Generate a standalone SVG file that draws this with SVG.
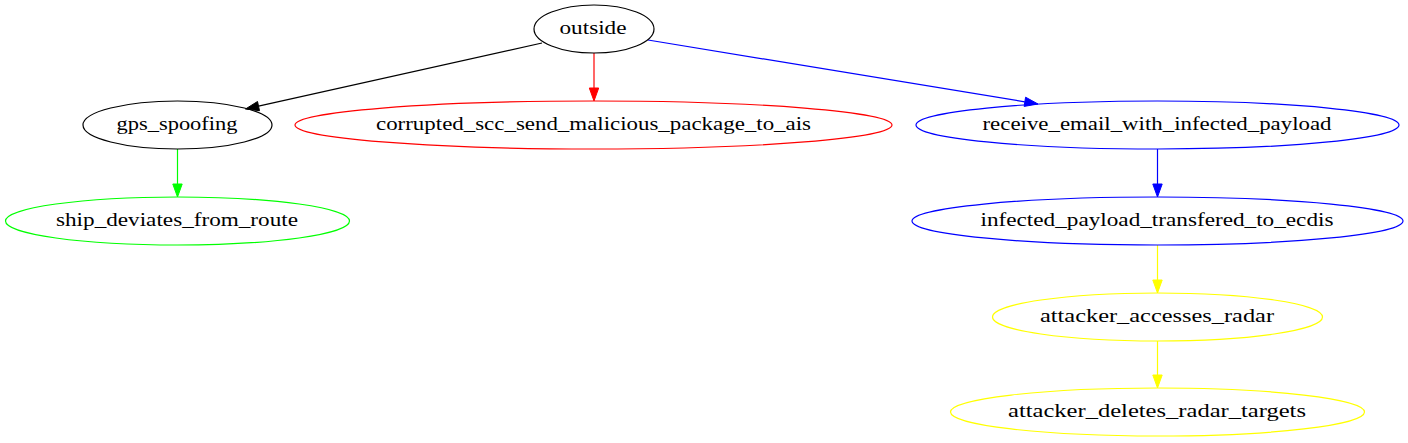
<svg xmlns="http://www.w3.org/2000/svg" width="1408" height="443" viewBox="0 0 1408 443">
<style>
text{font-family:'Liberation Serif','Times New Roman',serif;font-size:19.5px;text-anchor:middle;fill:#000}
ellipse{fill:none;stroke-width:1.2}
.e{fill:none;stroke-width:1.2}
</style>
<rect width="1408" height="443" fill="#fff"/>
<g id="connectors">
<g id="e_outside_gps"><path class="e" stroke="#000" d="M542,43 L258.5,106.1"/><polygon fill="#000" stroke="#000" points="259.5,110.7 245.5,109 257.5,101.5"/></g>
<g id="e_outside_corrupted"><path class="e" stroke="#f00" d="M594,53 L594,88"/><polygon fill="#f00" stroke="#f00" points="589.3,88 594,101 598.7,88"/></g>
<g id="e_outside_receive"><path class="e" stroke="#00f" d="M648,40 L1024.8,101.8"/><polygon fill="#00f" stroke="#00f" points="1024.1,106.4 1038,104 1025.6,97.2"/></g>
<g id="e_gps_ship"><path class="e" stroke="#0f0" d="M177.5,149 L177.5,184"/><polygon fill="#0f0" stroke="#0f0" points="172.8,184 177.5,197 182.2,184"/></g>
<g id="e_receive_infected"><path class="e" stroke="#00f" d="M1157.5,149 L1157.5,184"/><polygon fill="#00f" stroke="#00f" points="1152.8,184 1157.5,197 1162.2,184"/></g>
<g id="e_infected_accesses"><path class="e" stroke="#ff0" d="M1157.5,245 L1157.5,280"/><polygon fill="#ff0" stroke="#ff0" points="1152.8,280 1157.5,293 1162.2,280"/></g>
<g id="e_accesses_deletes"><path class="e" stroke="#ff0" d="M1157.5,341 L1157.5,375"/><polygon fill="#ff0" stroke="#ff0" points="1152.8,375 1157.5,388 1162.2,375"/></g>
</g>
<g id="outside"><ellipse cx="594" cy="29" rx="60" ry="24" stroke="#000"/><text x="593" y="34" textLength="67" lengthAdjust="spacingAndGlyphs">outside</text></g>
<g id="gps_spoofing"><ellipse cx="177.5" cy="125" rx="94.5" ry="24" stroke="#000"/><text x="177" y="130" textLength="121" lengthAdjust="spacingAndGlyphs">gps_spoofing</text></g>
<g id="corrupted_scc_send_malicious_package_to_ais"><ellipse cx="593.5" cy="125" rx="298.5" ry="24" stroke="#f00"/><text x="593.5" y="130" textLength="435" lengthAdjust="spacingAndGlyphs">corrupted_scc_send_malicious_package_to_ais</text></g>
<g id="receive_email_with_infected_payload"><ellipse cx="1157.5" cy="125" rx="241.5" ry="24" stroke="#00f"/><text x="1157" y="130" textLength="349" lengthAdjust="spacingAndGlyphs">receive_email_with_infected_payload</text></g>
<g id="ship_deviates_from_route"><ellipse cx="177.5" cy="221" rx="172" ry="24" stroke="#0f0"/><text x="177" y="226" textLength="242" lengthAdjust="spacingAndGlyphs">ship_deviates_from_route</text></g>
<g id="infected_payload_transfered_to_ecdis"><ellipse cx="1157.5" cy="221" rx="245.5" ry="24" stroke="#00f"/><text x="1157" y="226" textLength="353" lengthAdjust="spacingAndGlyphs">infected_payload_transfered_to_ecdis</text></g>
<g id="attacker_accesses_radar"><ellipse cx="1157.5" cy="317" rx="165" ry="24" stroke="#ff0"/><text x="1157" y="322" textLength="234" lengthAdjust="spacingAndGlyphs">attacker_accesses_radar</text></g>
<g id="attacker_deletes_radar_targets"><ellipse cx="1157.5" cy="412" rx="207" ry="24" stroke="#ff0"/><text x="1157" y="417" textLength="298" lengthAdjust="spacingAndGlyphs">attacker_deletes_radar_targets</text></g>
</svg>
